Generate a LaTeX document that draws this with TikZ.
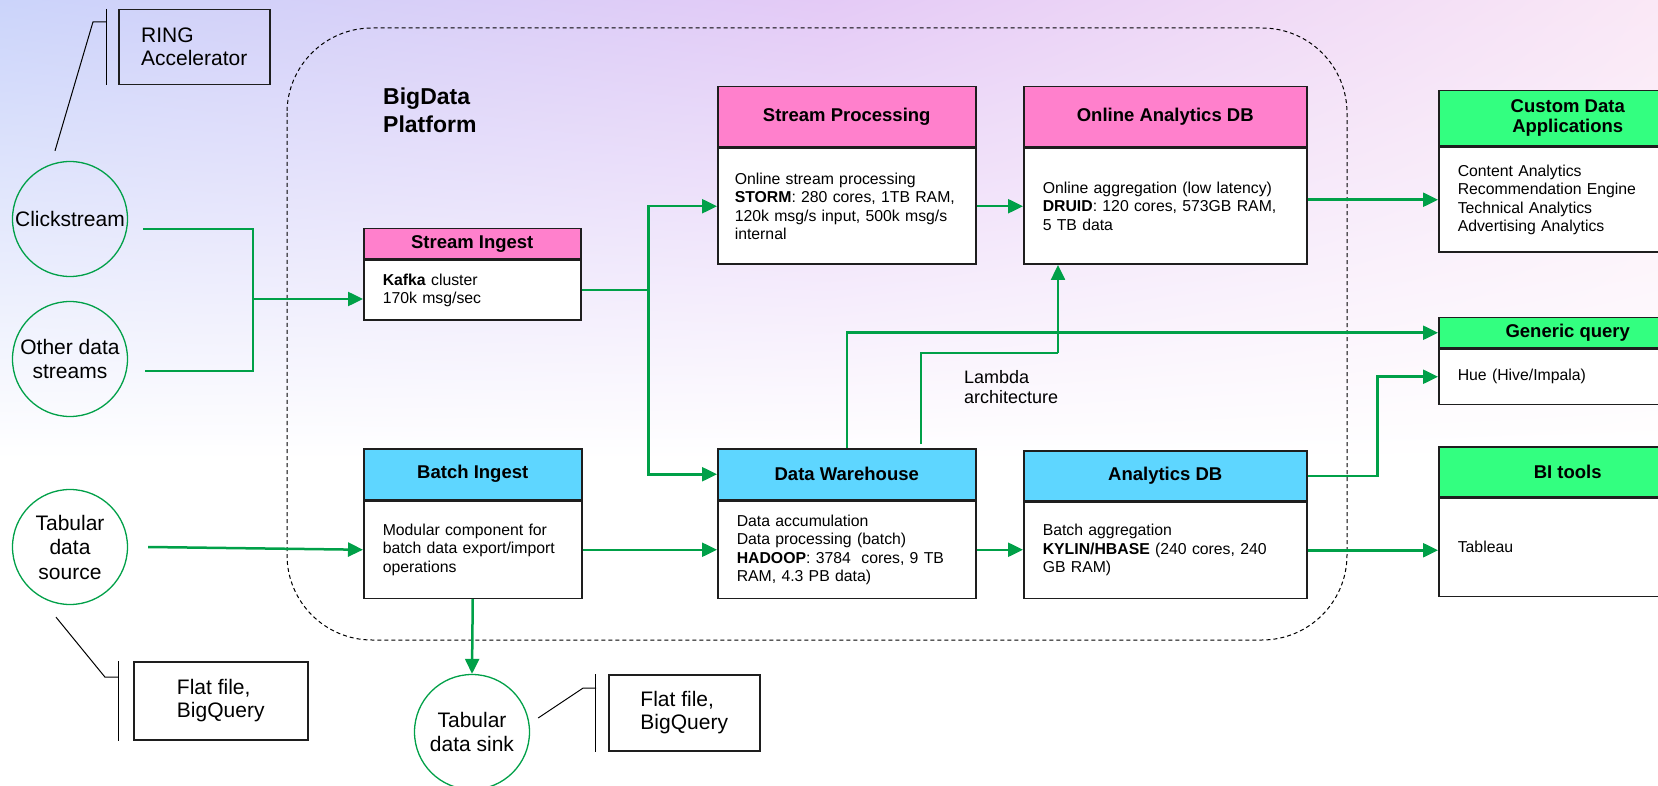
\documentclass[tikz,border=0pt]{standalone}
\usepackage{fontspec}
\setmainfont{Liberation Sans}
\usepackage{xcolor}
\usetikzlibrary{arrows.meta,positioning,shapes.geometric,shadings}

\definecolor{flowgreen}{RGB}{0,160,72}
\definecolor{pinkhead}{RGB}{255,128,204}
\definecolor{cyanhead}{RGB}{94,214,255}
\definecolor{greenhead}{RGB}{51,255,128}
\definecolor{bgblue}{RGB}{203,212,250}
\definecolor{bgviolet}{RGB}{228,202,246}
\definecolor{bgpink}{RGB}{250,232,246}
\definecolor{boxline}{RGB}{30,30,30}

\tikzset{
  head/.style={draw=boxline, line width=1.5pt, anchor=north west, inner sep=0pt, align=center,
    font=\fontsize{18.5}{21}\selectfont\bfseries},
  body/.style={draw=boxline, line width=1.5pt, fill=white, anchor=north west, inner xsep=19pt,
    inner ysep=0pt, align=left, font=\fontsize{15.8}{18.5}\selectfont},
  src/.style={circle, draw=flowgreen, line width=1.3pt, minimum size=115pt, inner sep=0pt,
    align=center, font=\fontsize{21}{24.5}\selectfont},
  note/.style={draw=boxline, line width=1.5pt, anchor=north west, align=left,
    font=\fontsize{21}{23}\selectfont},
  flow/.style={draw=flowgreen, line width=2.5pt},
  arr/.style={flow, -{Triangle[length=15pt,width=14pt]}},
  leader/.style={draw=black, line width=1pt},
  platform/.style={draw=black, line width=1pt, dash pattern=on 4pt off 3pt, rounded corners=85pt},
}

\begin{document}
\begin{tikzpicture}[x=1pt, y=-1pt]
    \useasboundingbox (0,0) rectangle (1658,786);
    \clip (0,0) rectangle (1658,786);

    % Sfondo
    \fill[white] (0,0) rectangle (1658,786);
    \shade[upper left=bgblue, upper right=bgviolet, lower left=white, lower right=white] (0,0) rectangle (830,460);
    \shade[upper left=bgviolet, upper right=bgpink, lower left=white, lower right=white] (830,0) rectangle (1658,460);

    % Piattaforma
    \draw[platform] (287,28) rectangle (1347,640);
    \node[anchor=north west, inner sep=0pt, align=left, font=\fontsize{23}{28}\selectfont\bfseries] (title) at (383,88) {BigData\\Platform};

    % Sorgenti
    \node[src] (click) at (70,219) {Clickstream};
    \node[src] (other) at (70,359) {Other data\\streams};
    \node[src] (tsrc) at (70,547) {Tabular\\data\\source};
    \node[src] (sink) at (472,732) {Tabular\\data sink};

    % Note
    \node[note, minimum width=151, minimum height=75] (ring) at (118,9) {RING\\Accelerator};
    \node[note, minimum width=174, minimum height=78] (ff1) at (133,661) {Flat file,\\BigQuery};
    \node[note, minimum width=151, minimum height=76] (ff2) at (608,674) {Flat file,\\BigQuery};
    \draw[leader] ([xshift=-12]ring.north west) -- ([xshift=-12]ring.south west);
    \draw[leader] ([xshift=-15]ff1.north west) -- ([xshift=-15]ff1.south west);
    \draw[leader] ([xshift=-13]ff2.north west) -- ([xshift=-13]ff2.south west);
    \draw[leader] ([shift={(-15,-10)}]click.north) -- ++(38,-129) -- ++(13,0);
    \draw[leader] ([shift={(-14,12)}]tsrc.south) -- ++(49,60) -- ++(13,0);
    \draw[leader] ([shift={(8,-14)}]sink.east) -- ++(45,-30) -- ++(13,0);

    % Componenti a flusso
    \node[head, fill=pinkhead, minimum width=217, minimum height=30] (si) at (363,228) {Stream Ingest};
    \node[body, text width=179pt, minimum height=60] (si-b) at (si.south west) {\textbf{Kafka} cluster\\170k msg/sec};
    \node[head, fill=pinkhead, minimum width=258, minimum height=60] (sp) at (717,86) {Stream Processing};
    \node[body, inner xsep=17pt, text width=224pt, minimum height=116] (sp-b) at (sp.south west) {Online stream processing\\\textbf{STORM}: 280 cores, 1TB RAM,\\120k msg/s input, 500k msg/s\\internal};
    \node[head, fill=pinkhead, minimum width=283, minimum height=60] (oadb) at (1023,86) {Online Analytics DB};
    \node[body, text width=245pt, minimum height=116] (oadb-b) at (oadb.south west) {Online aggregation (low latency)\\\textbf{DRUID}: 120 cores, 573GB RAM,\\5 TB data};

    % Componenti batch
    \node[head, fill=cyanhead, minimum width=218, minimum height=51] (bi) at (363,448) {Batch Ingest};
    \node[body, text width=180pt, minimum height=97] (bi-b) at (bi.south west) {Modular component for\\batch data export/import\\operations};
    \node[head, fill=cyanhead, minimum width=258, minimum height=51] (dw) at (717,448) {Data Warehouse};
    \node[body, text width=220pt, minimum height=97] (dw-b) at (dw.south west) {Data accumulation\\Data processing (batch)\\\textbf{HADOOP}: 3784~ cores, 9 TB\\RAM, 4.3 PB data)};
    \node[head, fill=cyanhead, minimum width=283, minimum height=50] (adb) at (1023,450) {Analytics DB};
    \node[body, text width=245pt, minimum height=96] (adb-b) at (adb.south west) {Batch aggregation\\\textbf{KYLIN/HBASE} (240 cores, 240\\GB RAM)};

    % Applicazioni
    \node[head, fill=greenhead, minimum width=258, minimum height=55, font=\fontsize{18.5}{20}\selectfont\bfseries] (cda) at (1438,90) {Custom Data\\Applications};
    \node[body, text width=220pt, minimum height=105] (cda-b) at (cda.south west) {Content Analytics\\Recommendation Engine\\Technical Analytics\\Advertising Analytics};
    \node[head, fill=greenhead, minimum width=258, minimum height=30] (gq) at (1438,317) {Generic query};
    \node[body, text width=220pt, minimum height=55] (gq-b) at (gq.south west) {Hue (Hive/Impala)};
    \node[head, fill=greenhead, minimum width=258, minimum height=50] (bit) at (1438,446) {BI tools};
    \node[body, text width=220pt, minimum height=98] (bit-b) at (bit.south west) {Tableau};

    % Collegamenti
    \coordinate (j1) at (253,299);
    \draw[flow] ([shift={(15,10)}]click.east) -| (j1);
    \draw[flow] ([shift={(17,12)}]other.east) -| (j1);
    \draw[arr] (j1) -- (j1 -| si-b.west);
    \draw[flow] (si-b.east) -- ++(67,0) coordinate (j2);
    \draw[arr] (j2) |- (sp-b.west);
    \draw[arr] (j2) |- (dw.west);
    \draw[arr] (sp-b.east) -- (sp-b.east -| oadb-b.west);
    \draw[arr] (cda-b.west -| oadb-b.east) -- (cda-b.west);
    \draw[arr] ([xshift=20]tsrc.east) -- (bi-b.west);
    \draw[arr] (bi-b.east) -- (bi-b.east -| dw-b.west);
    \draw[arr] (dw-b.east) -- (dw-b.east -| adb-b.west);
    \draw[arr] (dw.north) |- (gq.west);
    \coordinate (lam) at (1058,353);
    \draw[flow] ([shift={(74,-4)}]dw.north) |- (lam);
    \draw[arr] (lam) -- (lam |- oadb-b.south);
    \draw[arr] (adb.east) -- ++(70,0) |- (gq-b.west);
    \draw[arr] (adb-b.east) -- (adb-b.east -| bit-b.west);
    \draw[arr] (bi-b.south) -- (sink.north);

    % Etichetta
    \node[anchor=north west, inner sep=0pt, align=left, font=\fontsize{18}{20}\selectfont] (lambda) at (964,370) {Lambda\\architecture};
\end{tikzpicture}
\end{document}
